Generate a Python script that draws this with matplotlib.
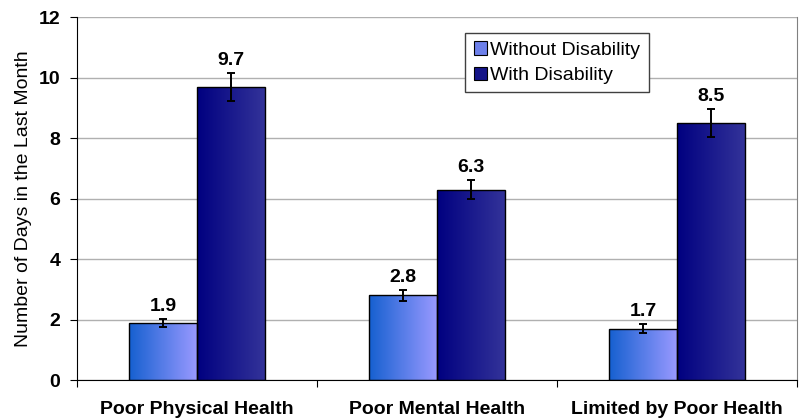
import numpy as np
import matplotlib.pyplot as plt
from matplotlib.patches import Rectangle
from matplotlib.colors import LinearSegmentedColormap

plt.rcParams['font.family'] = ['Liberation Sans', 'DejaVu Sans']

categories = ['Poor Physical Health', 'Poor Mental Health', 'Limited by Poor Health']
without_dis = [1.9, 2.8, 1.7]
with_dis = [9.7, 6.3, 8.5]
err_without = [0.13, 0.18, 0.15]
err_with = [0.47, 0.32, 0.47]
series_names = ['Without Disability', 'With Disability']

cmap_light = LinearSegmentedColormap.from_list('l', ['#1560d0', '#9999ff'])
cmap_dark = LinearSegmentedColormap.from_list('d', ['#000080', '#333399'])

fig = plt.figure(figsize=(8.02, 4.19), dpi=100)
ax = fig.add_axes([0.096, 0.093, 0.898, 0.866])

x = np.arange(len(categories))
w = 0.283
grad = np.linspace(0, 1, 256).reshape(1, -1)


def gradient_bar(xc, h, cmap):
    x0 = xc - w / 2
    im = ax.imshow(grad, cmap=cmap, aspect='auto', extent=[x0, x0 + w, 0, h],
                   zorder=2)
    r = Rectangle((x0, 0), w, h, fill=False, edgecolor='black', lw=1.0, zorder=3)
    ax.add_patch(r)
    im.set_clip_path(Rectangle((x0, 0), w, h, transform=ax.transData))


for i in range(len(categories)):
    gradient_bar(x[i] - w / 2, without_dis[i], cmap_light)
    gradient_bar(x[i] + w / 2, with_dis[i], cmap_dark)

ax.errorbar(x - w / 2, without_dis, yerr=err_without, fmt='none', ecolor='black',
            elinewidth=1.4, capsize=2.6, capthick=1.4, zorder=4)
ax.errorbar(x + w / 2, with_dis, yerr=err_with, fmt='none', ecolor='black',
            elinewidth=1.4, capsize=2.6, capthick=1.4, zorder=4)

for i in range(len(categories)):
    ax.text(x[i] - w / 2, without_dis[i] + err_without[i] + 0.12, f'{without_dis[i]:.1f}',
            ha='center', va='bottom', fontsize=14, fontweight='bold')
    ax.text(x[i] + w / 2, with_dis[i] + err_with[i] + 0.12, f'{with_dis[i]:.1f}',
            ha='center', va='bottom', fontsize=14, fontweight='bold')

ax.set_xlim(-0.5, 2.5)
ax.set_ylim(0, 12)
ax.set_yticks(range(0, 13, 2))
ax.set_yticklabels([str(v) for v in range(0, 13, 2)], fontsize=14, fontweight='bold')
ax.yaxis.grid(True, color='#b0b0b0', lw=1.0)
ax.set_axisbelow(True)

ax.set_xticks([-0.5, 0.5, 1.5, 2.5])
ax.set_xticklabels([])
ax.set_xticks(x, minor=True)
ax.set_xticklabels(categories, minor=True, fontsize=14, fontweight='bold')
ax.tick_params(axis='x', which='minor', length=0, pad=15)
ax.tick_params(axis='x', which='major', length=5, direction='out')
ax.tick_params(axis='y', length=5, direction='out', pad=7)

ax.set_ylabel('Number of Days in the Last Month', fontsize=14, labelpad=5)

ax.spines['top'].set_visible(False)
ax.spines['right'].set_color('#808080')

handles = [Rectangle((0, 0), 1, 1, facecolor='#6d80ea', edgecolor='black', lw=0.8),
           Rectangle((0, 0), 1, 1, facecolor='#141488', edgecolor='black', lw=0.8)]
leg = ax.legend(handles, series_names, loc='upper left', bbox_to_anchor=(0.539, 0.956),
                fontsize=14, fancybox=False, edgecolor='#404040', framealpha=1,
                handlelength=0.67, handleheight=0.67, handletextpad=0.2,
                borderpad=0.45, labelspacing=0.4, borderaxespad=0)
leg.get_frame().set_linewidth(1.0)
leg._legend_box.pad = 6

fig.savefig('out.png', dpi=100)
